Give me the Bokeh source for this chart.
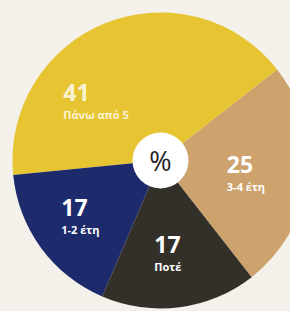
import numpy as np
from bokeh.plotting import figure
from bokeh.models import ColumnDataSource
from bokeh.core.properties import value
from bokeh.embed import file_html
from bokeh.resources import INLINE

# ---- data (in drawing order, anticlockwise) ----
categories = ["3-4 έτη", "Πάνω από 5", "1-2 έτη", "Ποτέ"]
percent = [25, 41, 17, 17]
colors = ["#CDA26C", "#E7C532", "#1D2A6C", "#33302A"]
center_label = "%"

# ---- layout / style ----
W, H = 290, 311
BG = "#F3F1EA"
CX, CY = 160, 151
R = 148
HOLE = 28
START_DEG = 308
LABEL_R = 92
label_shift_deg = [0, 27, 0, 0]
label_halfwidth = [25, 28, 25, 18]
label_alpha = [1.0, 0.8, 1.0, 1.0]

total = float(sum(percent))
ang = np.array(percent) / total * 2 * np.pi
ends = np.radians(START_DEG) + np.cumsum(ang)
starts = ends - ang
mids = (starts + ends) / 2 + np.radians(label_shift_deg)
lx = CX + LABEL_R * np.cos(mids) - np.array(label_halfwidth)
ly = CY + LABEL_R * np.sin(mids)

src = ColumnDataSource(dict(
    cat=categories, pct=percent, color=colors,
    start=starts, end=ends,
    lx=lx, ly_num=ly + 7.5, ly_sub=ly - 15,
    num=[str(v) for v in percent], alpha=label_alpha,
))

p = figure(width=W, height=H, x_range=(0, W), y_range=(0, H),
           toolbar_location=None, output_backend="svg",
           x_axis_type=None, y_axis_type=None, min_border=0,
           background_fill_color=BG, border_fill_color=BG,
           outline_line_color=None)
p.grid.visible = False

p.wedge(x=CX, y=CY, radius=R, start_angle="start", end_angle="end",
        fill_color="color", line_color=None, source=src)

p.circle(x=[CX], y=[CY], radius=HOLE, fill_color="white", line_color=None)

p.text(x="lx", y="ly_num", text="num", source=src,
       text_font=value("Open Sans"), text_font_style="bold",
       text_font_size="23px", text_color="white", text_alpha="alpha",
       text_align="left", text_baseline="middle")
p.text(x="lx", y="ly_sub", text="cat", source=src,
       text_font=value("Open Sans"), text_font_style="bold",
       text_font_size="11px", text_color="white", text_alpha="alpha",
       text_align="left", text_baseline="middle")

p.text(x=[CX], y=[CY], text=[center_label],
       text_font=value("Open Sans"), text_font_size="27px",
       text_color="#222222", text_align="center", text_baseline="middle")

html = file_html(p, INLINE)
html = html.replace("</head>", "<style>html,body{background:%s;}</style></head>" % BG, 1)
open("out.html", "w").write(html)
